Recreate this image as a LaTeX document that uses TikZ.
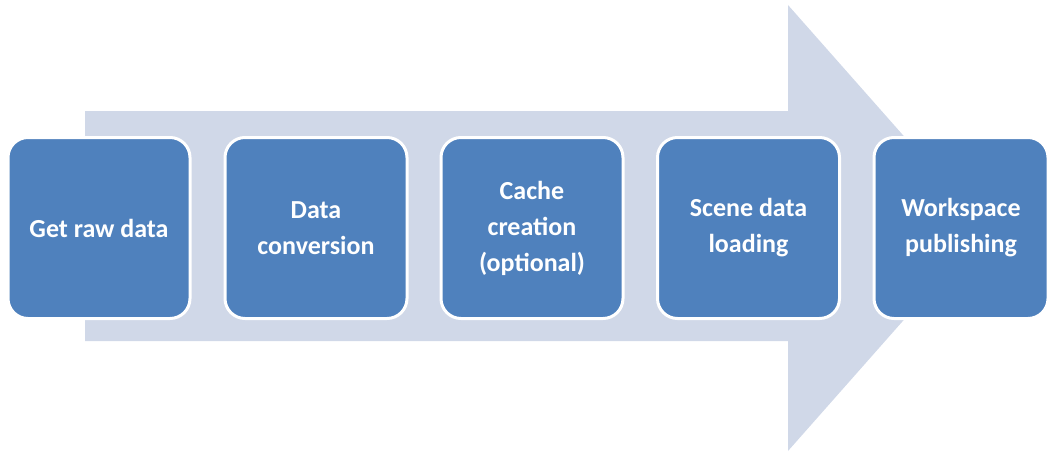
\documentclass[tikz,border=0pt]{standalone}
\usepackage{fontspec}
\setmainfont{Carlito}
\definecolor{arrowfill}{HTML}{D0D8E8}
\definecolor{boxfill}{HTML}{4F81BD}
\tikzset{
  stepbox/.style={rectangle, rounded corners=20pt, fill=boxfill, draw=white, line width=3pt,
    minimum height=181pt, minimum width=182pt, text=white, align=center,
    font=\fontsize{26}{36}\selectfont\bfseries, inner sep=0pt}
}
\begin{document}
\begin{tikzpicture}[x=1pt,y=-1pt]
\useasboundingbox (0,0) rectangle (1050,452);
\fill[arrowfill] (85,111) -- (788,111) -- (788,5) -- (985,228) -- (788,451) -- (788,341) -- (85,341) -- cycle;
\node[stepbox] (s1) at (99,228) {Get raw data};
\node[stepbox] (s2) at (316,228) {Data\\conversion};
\node[stepbox] (s3) at (532,228) {Cache\\creation\\(optional)};
\node[stepbox] (s4) at (748.5,228) {Scene data\\loading};
\node[stepbox, minimum width=174pt] (s5) at (961,228) {Workspace\\publishing};
\end{tikzpicture}
\end{document}
